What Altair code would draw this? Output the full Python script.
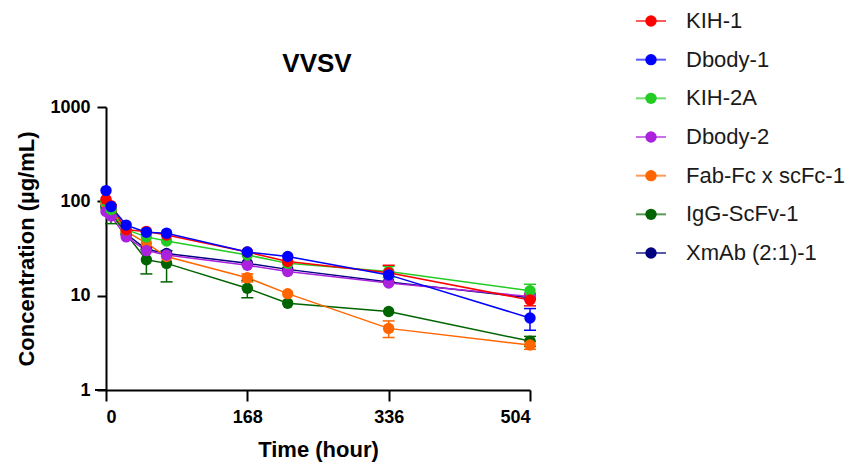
import altair as alt
import pandas as pd

# ---- data ----
times = [0, 6, 24, 48, 72, 168, 216, 336, 504]
series = ["KIH-1", "Dbody-1", "KIH-2A", "Dbody-2", "Fab-Fc x scFc-1", "IgG-ScFv-1", "XmAb (2:1)-1"]
colors = ["#ff0000", "#0000ff", "#22cc22", "#aa22dd", "#ff6600", "#006400", "#000080"]
chart_title = ["VVSV"]

kih1 = [105, 90, 50, 48, 44, 29, 23, 17.5, 9.0]
dbody1 = [130, 88, 56, 47, 46, 29, 26, 16.6, 5.8]
kih2a = [100, 82, 50, 42, 38, 27, 22, 18, 11.3]
dbody2 = [78, 70, 42, 30, 27, 21, 18, 13.6, 9.8]
fabfc = [95, 80, 48, 36, 26, 15.5, 10.5, 4.5, 3.0]
iggscfv = [85, 75, 45, 24, 22, 12, 8.3, 6.8, 3.3]
xmab = [90, 78, 45, 31, 28, 22, 19, 14, 9.5]

kih1_sd = [0, 0, 0, 0, 0, 0, 0, 3.5, 1.2]
dbody1_sd = [0, 0, 0, 0, 0, 0, 0, 0, 1.5]
kih2a_sd = [0, 0, 0, 0, 0, 0, 0, 2.5, 1.9]
dbody2_sd = [0, 0, 0, 0, 0, 0, 0, 0, 0.8]
fabfc_sd = [0, 0, 0, 0, 0, 1.5, 0, 0.9, 0.3]
iggscfv_sd = [0, 17, 0, 7, 8, 2.5, 0, 0, 0.4]
xmab_sd = [0, 0, 0, 0, 0, 0, 0, 0, 0]

values = [kih1, dbody1, kih2a, dbody2, fabfc, iggscfv, xmab]
sds = [kih1_sd, dbody1_sd, kih2a_sd, dbody2_sd, fabfc_sd, iggscfv_sd, xmab_sd]

# drawing order (later on top)
draw_order = ["XmAb (2:1)-1", "IgG-ScFv-1", "Fab-Fc x scFc-1", "Dbody-2", "KIH-2A", "KIH-1", "Dbody-1"]

rows = []
for name, vals, sd in zip(series, values, sds):
    for t, v, s in zip(times, vals, sd):
        rows.append({"series": name, "time": t, "value": v, "sd": s,
                     "lo": max(v - s, 1.05), "hi": v + s,
                     "ord": draw_order.index(name)})
df = pd.DataFrame(rows).sort_values(["ord", "time"]).reset_index(drop=True)
err_df = df[df["sd"] > 0]
legend_df = pd.DataFrame({"series": series})
title_df = pd.DataFrame({"label": chart_title})

FONT = "Liberation Sans"

color_scale = alt.Scale(domain=series, range=colors)
stroke_enc = alt.Stroke("series:N", scale=color_scale, legend=None)
color_enc = alt.Color("series:N", scale=color_scale, legend=None)

x_enc = alt.X("time:Q", scale=alt.Scale(domain=[0, 504], nice=False),
              axis=alt.Axis(values=[0, 168, 336, 504], title="Time (hour)", grid=False,
                            tickSize=11, tickWidth=2, domainWidth=2, domainColor="black",
                            tickColor="black", labelFontSize=18, labelFontWeight="bold",
                            labelFont=FONT, labelColor="black", labelPadding=7,
                            titleFont=FONT, titleFontSize=22, titleFontWeight="bold",
                            titlePadding=13, titleColor="black"))
y_enc = alt.Y("value:Q", scale=alt.Scale(type="log", domain=[1, 1000], nice=False),
              axis=alt.Axis(values=[1, 10, 100, 1000], format="d", title="Concentration  (µg/mL)",
                            grid=False, tickSize=9, tickWidth=2, domainWidth=2,
                            domainColor="black", tickColor="black", labelFontSize=18,
                            labelFontWeight="bold", labelFont=FONT, labelColor="black",
                            labelPadding=7, titleFont=FONT, titleFontSize=22,
                            titleFontWeight="bold", titlePadding=11, titleColor="black"))

base = alt.Chart(df)

lines = base.mark_line(strokeWidth=1.5).encode(
    x=x_enc, y=y_enc,
    stroke=stroke_enc,
    detail="series:N",
    order="ord:Q",
)

err_rule = alt.Chart(err_df).mark_rule(strokeWidth=1.5).encode(
    x="time:Q", y="lo:Q", y2="hi:Q", stroke=stroke_enc,
)
err_lo = alt.Chart(err_df).mark_rule(strokeWidth=1.5, xOffset=-6, x2Offset=6).encode(
    x="time:Q", x2="time:Q", y="lo:Q", stroke=stroke_enc,
)
err_hi = alt.Chart(err_df).mark_rule(strokeWidth=1.5, xOffset=-6, x2Offset=6).encode(
    x="time:Q", x2="time:Q", y="hi:Q", stroke=stroke_enc,
)

points = base.mark_point(filled=True, size=130, opacity=1).encode(
    x="time:Q", y="value:Q",
    color=color_enc,
    order="ord:Q",
)

# small extension of the x axis line to the left of 0 (GraphPad style)
axis_ext = alt.Chart(pd.DataFrame({"a": [0]})).mark_rule(color="black", strokeWidth=2).encode(
    x=alt.value(-11), x2=alt.value(0), y=alt.value(283))

main = alt.layer(lines, err_rule, err_lo, err_hi, points, axis_ext)

# ---- legend built from the series list (own point scale for rows) ----
leg_y = alt.Y("series:N", scale=alt.Scale(type="point", domain=series, range=[-86, 146],
                                          padding=0), axis=None)
leg_base = alt.Chart(legend_df)
leg_line = leg_base.mark_rule(strokeWidth=2, opacity=0.65).encode(
    x=alt.value(530), x2=alt.value(560), y=leg_y, stroke=stroke_enc)
leg_pt = leg_base.mark_point(filled=True, size=130, opacity=1).encode(
    x=alt.value(545), y=leg_y, color=color_enc)
leg_txt = leg_base.mark_text(align="left", baseline="middle", font=FONT, fontSize=22,
                             color="#1a1a1a").encode(
    x=alt.value(580), y=leg_y, text="series:N")

# chart title as a text mark centred over the plot area
title_txt = alt.Chart(title_df).mark_text(align="center", baseline="alphabetic", font=FONT,
                                          fontSize=26, fontWeight="bold",
                                          color="black").encode(
    x=alt.value(211), y=alt.value(-35), text="label:N")

legend = alt.layer(leg_line, leg_pt, leg_txt, title_txt)

chart = alt.layer(main, legend).resolve_scale(y="independent").properties(
    width=424, height=283,
    background="white",
    autosize=alt.AutoSizeParams(type="none"),
    padding={"left": 106, "top": 107, "right": 327, "bottom": 86},
).configure_view(strokeWidth=0)

chart.save("out.html", embed_options={"renderer": "svg", "actions": False})
